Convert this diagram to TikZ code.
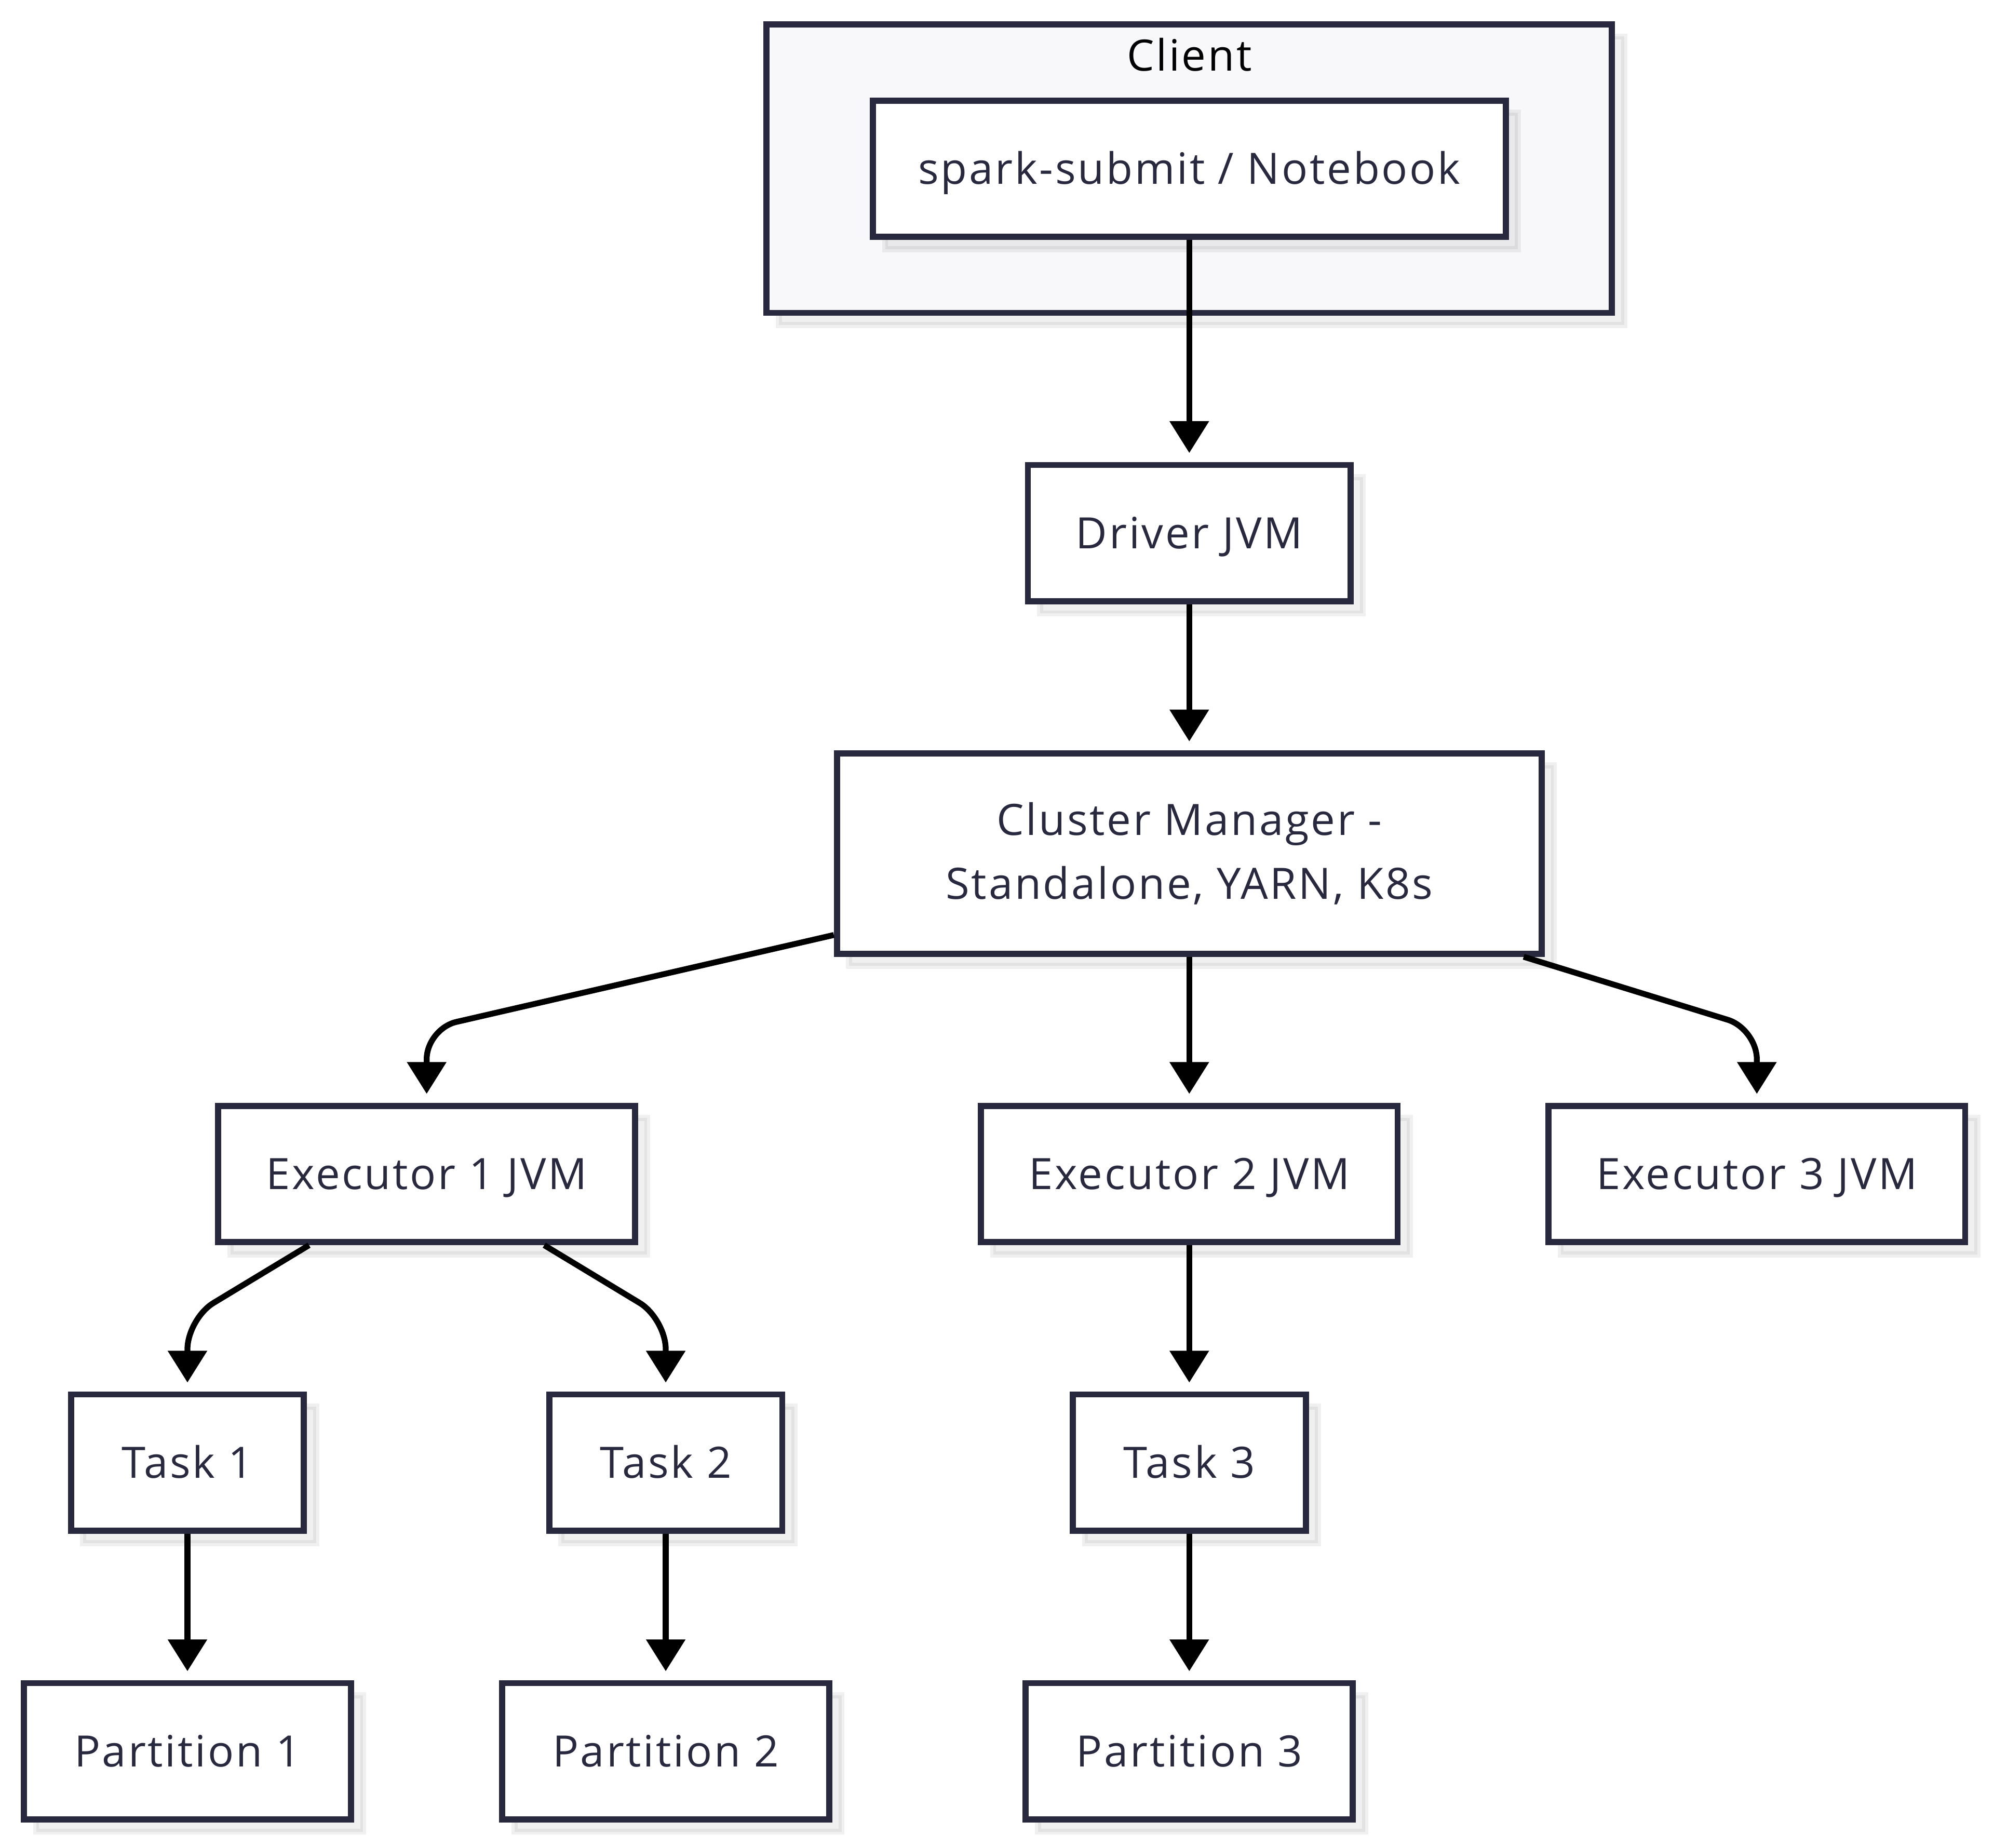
\documentclass[tikz,border=0pt]{standalone}
\usepackage{fontspec}
\setmainfont{Open Sans}[LetterSpace=4.5]
\usetikzlibrary{arrows.meta,shadows}
\definecolor{ink}{HTML}{28283F}
\definecolor{groupfill}{HTML}{F8F8FA}
\begin{document}
\begin{tikzpicture}[x=0.5pt,y=-0.5pt,
  box/.style={draw=ink, line width=2.4pt, fill=white, text=ink,
    font=\fontsize{17}{25}\selectfont, inner sep=0pt,
    minimum height=53.6pt, text height=12.2pt, text depth=0pt, align=center,
    drop shadow={shadow xshift=4.8pt, shadow yshift=-4.8pt, fill=black, draw=black,
      line width=2.4pt, opacity=0.06}},
  group/.style={box, fill=groupfill},
  edge/.style={draw=black, line width=2.3pt,
    -{Triangle[length=12.5pt,width=15pt]}, shorten >=3.5pt},
  bentedge/.style={edge, rounded corners=12pt}]
  \useasboundingbox (0,0) rectangle (1568,1453);

  % client group
  \node[group, minimum width=332.4pt, minimum height=113.45pt] (client) at (935.2,132.6) {};
  \node[text=black, font=\fontsize{17}{20}\selectfont, text height=12.2pt, text depth=0pt,
    inner sep=0pt] (clientlbl) at (935.2,43.5) {Client};

  % nodes
  \node[box, minimum width=248.8pt] (spark) at (935.2,132.7) {spark-submit / Notebook};
  \node[box, minimum width=126.9pt] (driver) at (935.2,419.2) {Driver JVM};
  \node[box, minimum width=277.1pt, minimum height=78.8pt, text height=, text depth=]
    (cm) at (935.2,671.2) {Cluster Manager -\\Standalone, YARN, K8s};

  \node[box, minimum width=163.85pt] (e1) at (335.5,923.2) {Executor 1 JVM};
  \node[box, minimum width=163.85pt] (e2) at (935.2,923.2) {Executor 2 JVM};
  \node[box, minimum width=163.85pt] (e3) at (1381.5,923.2) {Executor 3 JVM};

  \node[box, minimum width=91.6pt] (t1) at (147.4,1150.2) {Task 1};
  \node[box, minimum width=91.6pt] (t2) at (523.5,1150.2) {Task 2};
  \node[box, minimum width=91.6pt] (t3) at (935.2,1150.2) {Task 3};

  \node[box, minimum width=128.6pt] (p1) at (147.4,1377.2) {Partition 1};
  \node[box, minimum width=128.6pt] (p2) at (523.5,1377.2) {Partition 2};
  \node[box, minimum width=128.6pt] (p3) at (935.2,1377.2) {Partition 3};

  % bend points of the slanted connectors
  \coordinate (k1) at (335.5,809);
  \coordinate (k3) at (1381.5,809);
  \coordinate (k4) at (147.4,1037);
  \coordinate (k5) at (523.5,1037);

  % connectors
  \draw[edge] (spark) -- (driver);
  \draw[edge] (driver) -- (cm);
  \draw[bentedge] (cm) -- (k1) -- (e1);
  \draw[edge] (cm) -- (e2);
  \draw[bentedge] (cm) -- (k3) -- (e3);
  \draw[bentedge] (e1) -- (k4) -- (t1);
  \draw[bentedge] (e1) -- (k5) -- (t2);
  \draw[edge] (e2) -- (t3);
  \draw[edge] (t1) -- (p1);
  \draw[edge] (t2) -- (p2);
  \draw[edge] (t3) -- (p3);
\end{tikzpicture}
\end{document}
